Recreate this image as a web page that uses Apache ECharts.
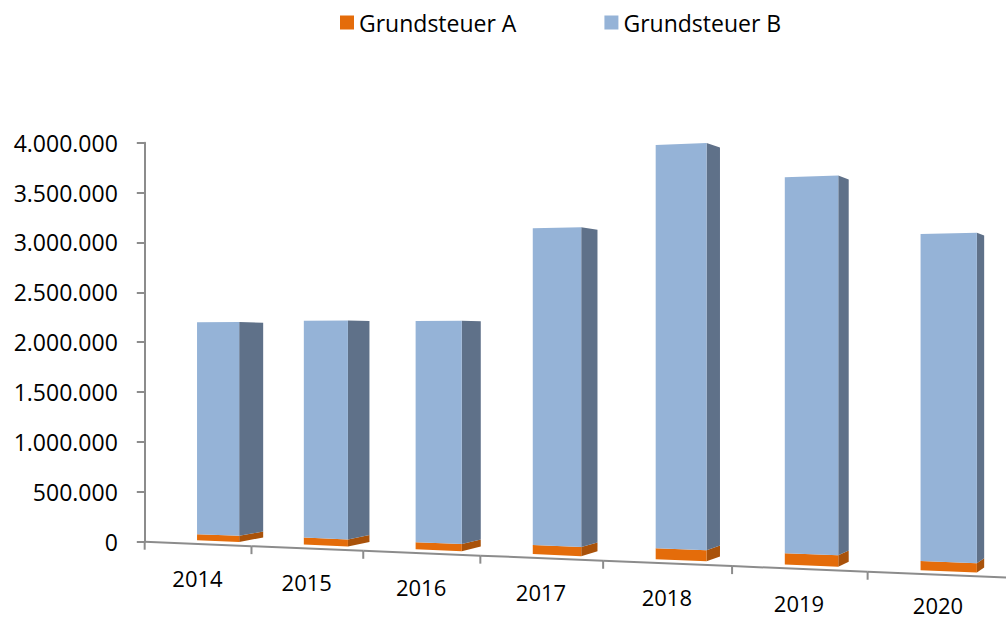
<!DOCTYPE html>
<html><head><meta charset="utf-8">
<script src="https://cdn.jsdelivr.net/npm/echarts@6/dist/echarts.min.js"></script>
<style>html,body{margin:0;padding:0;background:#fff}#c{width:1006px;height:621px}</style>
</head><body><div id="c"></div>
<script>
// ---- data ----
const years = ['2014', '2015', '2016', '2017', '2018', '2019', '2020'];
const grundsteuerA = [61000, 69000, 68000, 85000, 101000, 102000, 81000];
const grundsteuerB = [2140000, 2143000, 2135000, 2986000, 3710000, 3373000, 2860000];
const yMax = 4000000, yStep = 500000;

// ---- perspective parameters (view, not data) ----
const PERSP = -0.02246;        // perspective growth per category band
const HOR = 346.4;             // horizon line (y)
const VX = 1299, VY = 346;     // depth vanishing point
const K_FRONT = 0.9848, K_BACK = 0.9625;
const SHIFT = 0.036, HALF = 0.2;

function ctx(api) {
  const p0 = api.coord([0, 0])[0];
  const band = api.size([1, 0])[0];
  const axisL = p0 - band / 2;
  const s = xl => 1 / (1 + PERSP * (xl - p0) / band);
  const sAxis = s(axisL);
  const proj = (xl, yl) => [xl * s(xl), HOR + (yl - HOR) * s(xl) / sAxis];
  const depth = (p, k) => [VX + (p[0] - VX) * k, VY + (p[1] - VY) * k];
  return { p0, band, proj, depth };
}

function segment(api, i, v0, v1, front, side) {
  const C = ctx(api);
  const c = api.coord([i, 0])[0];
  const xl0 = c + C.band * (SHIFT - HALF), xl1 = c + C.band * (SHIFT + HALF);
  const yb = api.coord([i, v0])[1], yt = api.coord([i, v1])[1];
  const corners = [[xl0, yb], [xl1, yb], [xl1, yt], [xl0, yt]].map(p => C.proj(p[0], p[1]));
  const f = corners.map(p => C.depth(p, K_FRONT));
  const b = corners.map(p => C.depth(p, K_BACK));
  return {
    type: 'group',
    children: [
      { type: 'polygon', shape: { points: [f[1], b[1], b[2], f[2]] }, style: { fill: side } },
      { type: 'polygon', shape: { points: f }, style: { fill: front } }
    ]
  };
}

const fmt = v => String(v).replace(/\B(?=(\d{3})+(?!\d))/g, '.');

const chart = echarts.init(document.getElementById('c'), null, { renderer: 'svg' });
chart.setOption({
  animation: false,
  backgroundColor: '#ffffff',
  legend: {
    data: ['Grundsteuer A', 'Grundsteuer B'],
    left: 340, top: 11, padding: 0,
    icon: 'rect', itemWidth: 14, itemHeight: 14, itemGap: 88,
    textStyle: { fontFamily: 'Open Sans', fontSize: 23, color: '#000' }
  },
  grid: { left: 146.3, right: 143.2, top: 142.7, bottom: 79.3 },
  xAxis: { type: 'category', data: years, show: false },
  yAxis: {
    type: 'value', min: 0, max: yMax, interval: yStep, offset: 1.5,
    axisLine: { show: true, lineStyle: { color: '#8c8c8c', width: 2 } },
    axisTick: { show: true, length: 8, lineStyle: { color: '#8c8c8c', width: 2 } },
    splitLine: { show: false },
    axisLabel: { formatter: fmt, margin: 27, fontFamily: 'Open Sans', fontSize: 23, color: '#000' }
  },
  series: [
    {
      type: 'custom', name: 'floor', silent: true,
      data: years.map((y, i) => [i]),
      renderItem: (params, api) => {
        const i = api.value(0);
        const C = ctx(api);
        const c = api.coord([i, 0])[0];
        const yl = api.coord([i, 0])[1];
        const l = C.proj(c - C.band / 2, yl), r = C.proj(c + C.band / 2, yl);
        const m = C.proj(c, yl);
        const ly = Math.min(m[1] + 34, api.getHeight() - 16);
        const ch = [
          { type: 'line', shape: { x1: l[0], y1: l[1], x2: r[0], y2: r[1] }, style: { stroke: '#8c8c8c', lineWidth: 2 } },
          { type: 'line', shape: { x1: l[0], y1: l[1], x2: l[0], y2: l[1] + 8 }, style: { stroke: '#8c8c8c', lineWidth: 2 } },
          { type: 'text', x: m[0], y: ly, style: { text: years[i], fontFamily: 'Open Sans', fontSize: 22, lineHeight: 18, fill: '#000', align: 'center', verticalAlign: 'middle' } }
        ];
        if (i === years.length - 1) {
          ch.push({ type: 'line', shape: { x1: r[0], y1: r[1], x2: r[0], y2: r[1] + 8 }, style: { stroke: '#8c8c8c', lineWidth: 2 } });
        }
        return { type: 'group', children: ch };
      }
    },
    {
      type: 'custom', name: 'Grundsteuer A', itemStyle: { color: '#E46C0A' },
      data: grundsteuerA.map((v, i) => [i, v]),
      renderItem: (params, api) => segment(api, api.value(0), 0, api.value(1), '#E46C0A', '#A9520A')
    },
    {
      type: 'custom', name: 'Grundsteuer B', itemStyle: { color: '#95B3D7' },
      data: grundsteuerB.map((v, i) => [i, v, grundsteuerA[i]]),
      renderItem: (params, api) => segment(api, api.value(0), api.value(2), api.value(2) + api.value(1), '#95B3D7', '#5F7189')
    }
  ]
});
</script>
</body></html>
